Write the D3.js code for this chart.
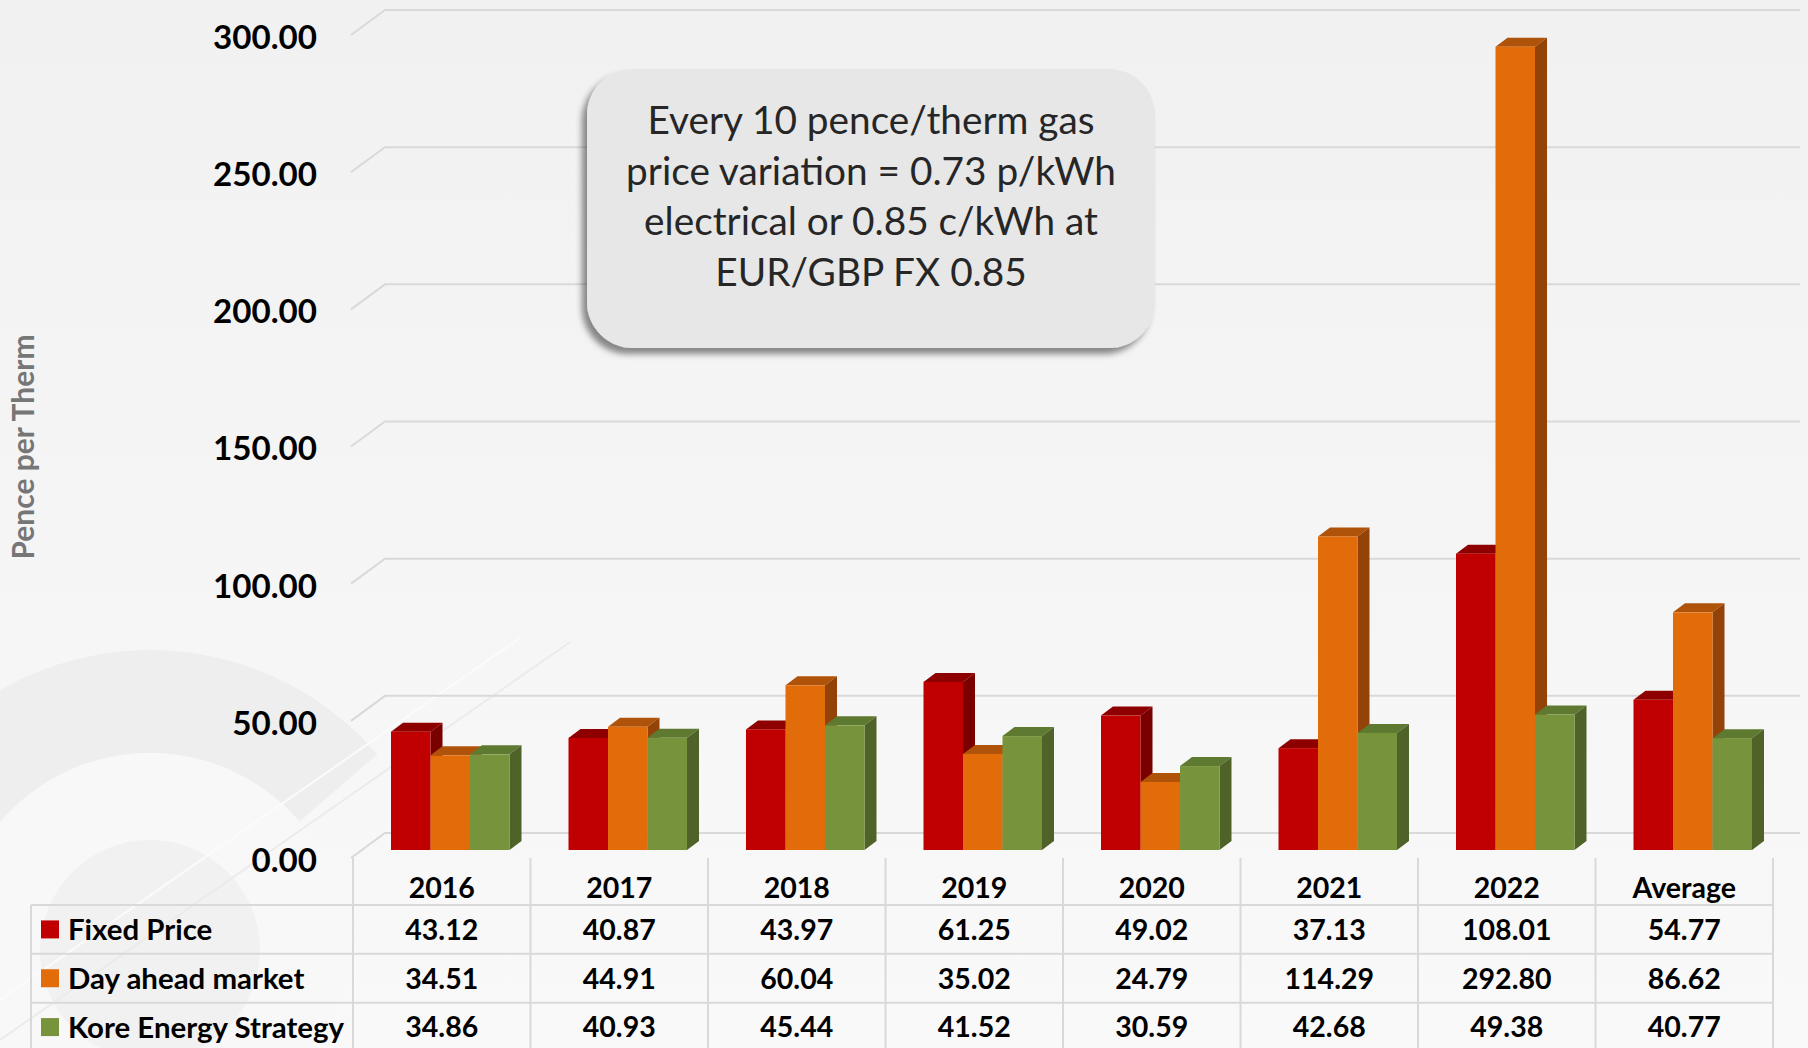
<!DOCTYPE html>
<html><head><meta charset="utf-8">
<script src="https://cdn.jsdelivr.net/npm/d3@7"></script>
<style>html,body{margin:0;padding:0;background:#f5f5f5;overflow:hidden}</style>
</head><body><svg id="chart" width="1808" height="1048"></svg>
<script>
// ---------------- data ----------------
const categories = ["2016","2017","2018","2019","2020","2021","2022","Average"];
const seriesNames = ["Fixed Price","Day ahead market","Kore Energy Strategy"];
const fixedPrice = [43.12,40.87,43.97,61.25,49.02,37.13,108.01,54.77];
const dayAhead   = [34.51,44.91,60.04,35.02,24.79,114.29,292.80,86.62];
const koreEnergy = [34.86,40.93,45.44,41.52,30.59,42.68,49.38,40.77];
const yTicks = [0,50,100,150,200,250,300];
const yAxisTitle = "Pence per Therm";
const calloutLines = ["Every 10 pence/therm gas","price variation = 0.73 p/kWh","electrical or 0.85 c/kWh at","EUR/GBP FX 0.85"];

// ---------------- styles ----------------
const FONT = "Lato, 'Open Sans', sans-serif";
const colors = {
  front: ["#C00000","#E36C0A","#77933C"],
  top:   ["#8E0000","#B0530A","#5E7A30"],
  side:  ["#7A0000","#934308","#4F6228"]
};
const W = 1808, H = 1048;
const svg = d3.select("#chart");
const defs = svg.append("defs");

function fitSize(str, weight, target, base){
  const t = svg.append("text").attr("font-family",FONT).attr("font-weight",weight)
    .attr("font-size",base).text(str);
  const w = t.node().getComputedTextLength();
  t.remove();
  return base*target/w;
}

// ---------------- background ----------------
const bg = defs.append("linearGradient").attr("id","bg").attr("x1",0).attr("y1",0).attr("x2",0).attr("y2",1);
bg.append("stop").attr("offset","0%").attr("stop-color","#f1f1f1");
bg.append("stop").attr("offset","100%").attr("stop-color","#f9f9f9");
svg.append("rect").attr("width",W).attr("height",H).attr("fill","url(#bg)");

// faint watermark
const wm = svg.append("g").attr("transform","translate(150,950)");
wm.append("path").attr("d", d3.arc().innerRadius(197).outerRadius(300).startAngle(-Math.PI).endAngle(0.86)())
  .attr("fill","#eeeeee");
wm.append("circle").attr("r",197).attr("fill","#f8f8f8");
wm.append("circle").attr("r",110).attr("fill","#f1f1f1");
svg.append("line").attr("x1",0).attr("y1",1040).attr("x2",570).attr("y2",642).attr("stroke","#ebebeb").attr("stroke-width",2);
svg.append("line").attr("x1",0).attr("y1",1000).attr("x2",520).attr("y2",638).attr("stroke","#fbfbfb").attr("stroke-width",2);

// ---------------- scales ----------------
const x = d3.scaleBand().domain(categories).range([353,1773]).padding(0);
const y = d3.scaleLinear().domain([0,300]).range([850,27]);
const barW = 39.5, groupOff = 38;
const xs = d3.scaleBand().domain(seriesNames).range([0, barW*3]).padding(0);
const depth = {dx:12, dy:-9};
const front = {dx:-11, dy:8};
const back  = {dx:23, dy:-17};
const gridRight = 1800;

// ---------------- gridlines ----------------
const grid = svg.append("g");
yTicks.forEach(v => {
  const yb = y(v);
  grid.append("path")
    .attr("d", `M${x.range()[0]-2},${yb+front.dy} L${x.range()[0]-2+(back.dx-front.dx)},${yb+back.dy} L${gridRight},${yb+back.dy}`)
    .attr("fill","none").attr("stroke","#d9d9d9").attr("stroke-width",2);
});

const yFs = fitSize("300.00","bold",104,30);
svg.append("g").selectAll("text").data(yTicks).join("text")
  .attr("x",317).attr("y",d => y(d)+front.dy+2)
  .attr("dy","0.36em").attr("text-anchor","end")
  .attr("font-family",FONT).attr("font-weight","bold").attr("font-size",yFs).attr("fill","#000")
  .text(d => d3.format(".2f")(d));

const tFs = fitSize(yAxisTitle,"bold",225,24);
svg.append("text").attr("transform","translate(23,447) rotate(-90)")
  .attr("text-anchor","middle").attr("dy","0.36em")
  .attr("font-family",FONT).attr("font-weight","bold").attr("font-size",tFs).attr("fill","#767676")
  .text(yAxisTitle);

// ---------------- bars ----------------
const seriesVals = [fixedPrice, dayAhead, koreEnergy];
const bars = svg.append("g");
categories.forEach((c,ci) => {
  seriesNames.forEach((s,si) => {
    const v = seriesVals[si][ci];
    const x0 = x(c) + groupOff + xs(s), x1 = x0 + barW;
    const yt = y(v), yb = y(0);
    const g = bars.append("g");
    g.append("path").attr("d",`M${x0},${yt} L${x1},${yt} L${x1+depth.dx},${yt+depth.dy} L${x0+depth.dx},${yt+depth.dy} Z`)
      .attr("fill",colors.top[si]);
    g.append("path").attr("d",`M${x1},${yt} L${x1+depth.dx},${yt+depth.dy} L${x1+depth.dx},${yb+depth.dy} L${x1},${yb} Z`)
      .attr("fill",colors.side[si]);
    g.append("rect").attr("x",x0).attr("y",yt).attr("width",barW).attr("height",yb-yt)
      .attr("fill",colors.front[si]);
  });
});

// ---------------- callout ----------------
const sh = defs.append("filter").attr("id","shadow").attr("x","-20%").attr("y","-20%").attr("width","140%").attr("height","140%");
sh.append("feDropShadow").attr("dx",-5).attr("dy",6).attr("stdDeviation",3)
  .attr("flood-color","#000").attr("flood-opacity",0.45);
svg.append("rect").attr("x",587).attr("y",69).attr("width",568).attr("height",279).attr("rx",46)
  .attr("fill","#e7e7e7").attr("filter","url(#shadow)");
const cFs = fitSize(calloutLines[1],"normal",490,36);
svg.append("g").selectAll("text").data(calloutLines).join("text")
  .attr("x",871).attr("y",(d,i)=>120 + i*50.7).attr("dy","0.36em").attr("text-anchor","middle")
  .attr("font-family",FONT).attr("font-size",cFs).attr("fill","#262626")
  .text(d=>d);

// ---------------- data table ----------------
const rowY = d3.scaleBand().domain(seriesNames).range([905, 1051.5]).padding(0);
const tbl = svg.append("g");
const lineCol = "#d9d9d9";
categories.concat(["__end"]).forEach((c,i) => {
  const xx = i < categories.length ? x(c) : x.range()[1];
  tbl.append("line").attr("x1",xx).attr("x2",xx).attr("y1",858).attr("y2",H)
    .attr("stroke",lineCol).attr("stroke-width",2);
});
tbl.append("line").attr("x1",31).attr("x2",31).attr("y1",905).attr("y2",H).attr("stroke",lineCol).attr("stroke-width",2);
seriesNames.forEach(s => {
  tbl.append("line").attr("x1",31).attr("x2",x.range()[1]).attr("y1",rowY(s)).attr("y2",rowY(s))
    .attr("stroke",lineCol).attr("stroke-width",2);
});
const vFs = fitSize("43.12","bold",73,28);
tbl.selectAll("text.hdr").data(categories).join("text").attr("class","hdr")
  .attr("x",d => x(d)+x.bandwidth()/2).attr("y",888).attr("dy","0.36em").attr("text-anchor","middle")
  .attr("font-family",FONT).attr("font-weight","bold").attr("font-size",vFs).attr("fill","#000")
  .text(d=>d);
seriesNames.forEach((s,si) => {
  tbl.append("g").selectAll("text").data(seriesVals[si]).join("text")
    .attr("x",(d,i)=>x(categories[i])+x.bandwidth()/2)
    .attr("y",rowY(s)+rowY.bandwidth()/2).attr("dy","0.36em").attr("text-anchor","middle")
    .attr("font-family",FONT).attr("font-weight","bold").attr("font-size",vFs).attr("fill","#000")
    .text(d=>d3.format(".2f")(d));
  tbl.append("rect").attr("x",41).attr("y",rowY(s)+rowY.bandwidth()/2-9).attr("width",18).attr("height",18)
    .attr("fill",colors.front[si]);
});
const lFs = fitSize("Kore Energy Strategy","bold",276,28);
tbl.append("g").selectAll("text").data(seriesNames).join("text")
  .attr("x",68).attr("y",d=>rowY(d)+rowY.bandwidth()/2).attr("dy","0.36em")
  .attr("font-family",FONT).attr("font-weight","bold").attr("font-size",lFs).attr("fill","#000")
  .text(d=>d);
</script></body></html>
